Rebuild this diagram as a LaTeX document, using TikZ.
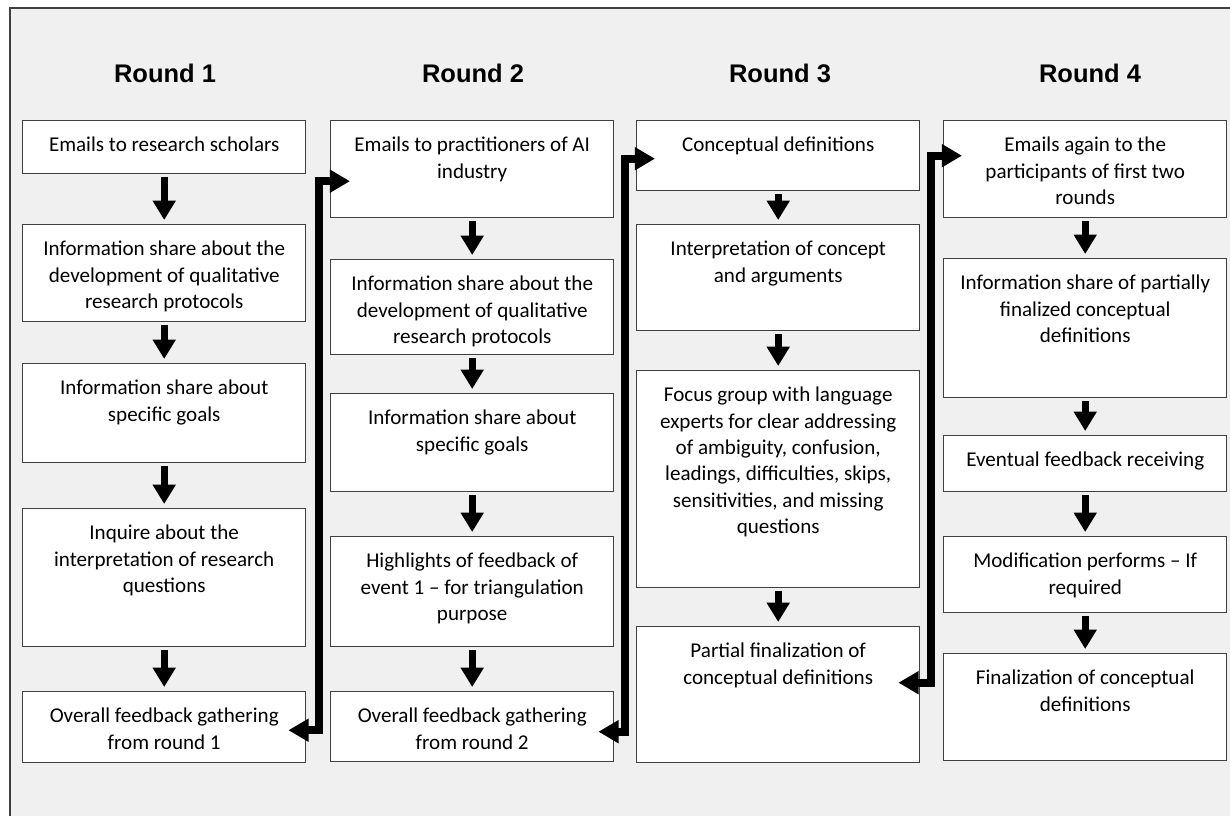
\documentclass[tikz,border=0pt]{standalone}
\usepackage{fontspec}
\setmainfont{Carlito}
\newfontfamily\headfont{Liberation Sans}
\usetikzlibrary{arrows.meta,positioning,calc}
\definecolor{panelgray}{RGB}{240,240,240}
\definecolor{framegray}{RGB}{64,64,64}
\newlength{\pxlen}\setlength{\pxlen}{0.02cm}
\newcommand{\stagetxt}[2]{\parbox[t][#1\pxlen][t]{283\pxlen}{\centering\rule{0pt}{31\pxlen}#2}}
\tikzset{
  stage/.style={draw=framegray, fill=white, line width=0.8pt, inner sep=0pt,
                anchor=north west, font=\fontsize{12}{15}\selectfont},
  rhead/.style={font=\headfont\bfseries\fontsize{14.5}{17}\selectfont},
  downarr/.style={-{Triangle[width=12.5pt,length=11pt]}, line width=4pt,
                  shorten <=0.06cm, shorten >=0.08cm},
  jumparr/.style={{Triangle[width=12.5pt,length=11.5pt]}-{Triangle[width=12.5pt,length=11.5pt]},
                  line width=4.5pt},
}

\begin{document}
\begin{tikzpicture}[x=0.02cm,y=-0.02cm]
    \useasboundingbox (0,0) rectangle (1230,815);
    \clip (0,0) rectangle (1230,815);
    \fill[white] (0,0) rectangle (1230,815);
    \draw[framegray, fill=panelgray, line width=0.6pt] (10,8) rectangle (1260,850);

    % headings
    \node[rhead] (t1) at (165,73) {Round 1};
    \node[rhead] (t2) at (473,73) {Round 2};
    \node[rhead] (t3) at (780,73) {Round 3};
    \node[rhead] (t4) at (1090,73) {Round 4};

    % round 1
    \node[stage] (r1a) at (22,120) {\stagetxt{53}{Emails to research scholars}};
    \node[stage] (r1b) at (22,224) {\stagetxt{97}{Information share about the\\ development of qualitative\\ research protocols}};
    \node[stage] (r1c) at (22,363) {\stagetxt{99}{Information share about\\ specific goals}};
    \node[stage] (r1d) at (22,508) {\stagetxt{138}{Inquire about the\\ interpretation of research\\ questions}};
    \node[stage] (r1e) at (22,691) {\stagetxt{71}{Overall feedback gathering\\ from round 1}};

    % round 2
    \node[stage] (r2a) at (330,120) {\stagetxt{97}{Emails to practitioners of AI\\ industry}};
    \node[stage] (r2b) at (330,259) {\stagetxt{95}{Information share about the\\ development of qualitative\\ research protocols}};
    \node[stage] (r2c) at (330,393) {\stagetxt{98}{Information share about\\ specific goals}};
    \node[stage] (r2d) at (330,536) {\stagetxt{110}{Highlights of feedback of\\ event 1 -- for triangulation\\ purpose}};
    \node[stage] (r2e) at (330,691) {\stagetxt{70}{Overall feedback gathering\\ from round 2}};

    % round 3
    \node[stage] (r3a) at (636,120) {\stagetxt{70}{Conceptual definitions}};
    \node[stage] (r3b) at (636,224) {\stagetxt{106}{Interpretation of concept\\ and arguments}};
    \node[stage] (r3c) at (636,370) {\stagetxt{217}{Focus group with language\\ experts for clear addressing\\ of ambiguity, confusion,\\ leadings, difficulties, skips,\\ sensitivities, and missing\\ questions}};
    \node[stage] (r3d) at (636,626) {\stagetxt{136}{Partial finalization of\\ conceptual definitions}};

    % round 4
    \node[stage] (r4a) at (943,120) {\stagetxt{97}{Emails again to the\\ participants of first two\\ rounds}};
    \node[stage] (r4b) at (943,258) {\stagetxt{139}{Information share of partially\\ finalized conceptual\\ definitions}};
    \node[stage] (r4c) at (943,435) {\stagetxt{56}{Eventual feedback receiving}};
    \node[stage] (r4d) at (943,536) {\stagetxt{76}{Modification performs -- If\\ required}};
    \node[stage] (r4e) at (943,653) {\stagetxt{107}{Finalization of conceptual\\ definitions}};

    % arrows inside each round
    \foreach \p/\q in {1a/1b,1b/1c,1c/1d,1d/1e,2a/2b,2b/2c,2c/2d,2d/2e,
                       3a/3b,3b/3c,3c/3d,4a/4b,4b/4c,4c/4d,4d/4e}
      \draw[downarr] (r\p.south) -- (r\q.north);

    % links between rounds
    \draw[jumparr] ($(r1e.east)+(-18,3)$) -- ++(31,0) |- ($(r2a.west)+(20,12)$);
    \draw[jumparr] ($(r2e.east)+(-16,5)$) -- ++(27,0) |- ($(r3a.west)+(19,3)$);
    \draw[jumparr] ($(r3d.east)+(-22,-12)$) -- ++(33,0) |- ($(r4a.west)+(19,-13.5)$);
\end{tikzpicture}
\end{document}
